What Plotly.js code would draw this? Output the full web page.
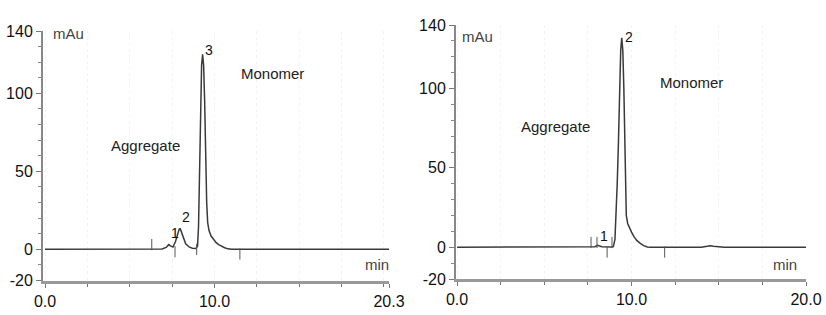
<!DOCTYPE html>
<html>
<head>
<meta charset="utf-8">
<script src="https://cdn.plot.ly/plotly-3.0.1.min.js"></script>
<style>html,body{margin:0;padding:0;background:#fff;}#chart{width:826px;height:315px;}</style>
</head>
<body>
<div id="chart"></div>
<script>
// ---- Left chromatogram (0 - 20.3 min) ----
var leftTime = [0, 6.0, 6.9, 7.15, 7.3, 7.4, 7.55, 7.7, 7.82, 7.92, 7.98, 8.05, 8.15, 8.3, 8.5, 8.7, 8.9,
  9.0, 9.06, 9.12, 9.18, 9.24, 9.3, 9.36, 9.42, 9.48, 9.54, 9.6, 9.68, 9.8, 9.95, 10.1, 10.25, 10.4, 10.6, 10.8, 11.0, 20.3];
var leftAbs = [0, 0, 0.2, 1.2, 3, 2.2, 1.5, 5, 10, 13, 13.2, 11, 7, 3.5, 1.5, 0.7, 0.5,
  2, 15, 55, 95, 118, 125, 118, 95, 60, 30, 17, 12, 8.5, 6, 4.3, 3, 2, 1, 0.3, 0, 0];
var leftPeakLabels = ['1', '2', '3'];
var leftPeakTimes = [7.3, 7.96, 9.3];
var leftPeakHeights = [3, 13.2, 125];
var leftEventTimes = [6.3, 7.67, 8.95, 11.5];
var leftEventLevels = [3, -1.5, 0, -3];

// ---- Right chromatogram (0 - 20.0 min) ----
var rightTime = [0, 7.5, 7.9, 8.05, 8.15, 8.3, 8.9, 8.96, 9.05, 9.12, 9.18, 9.25, 9.32, 9.38, 9.44, 9.5, 9.56, 9.62, 9.66,
  9.7, 9.78, 9.9, 10.0, 10.15, 10.3, 10.5, 10.7, 10.9, 11.1, 14.0, 14.3, 14.5, 14.7, 15.0, 15.3, 20];
var rightAbs = [0, 0, 0.3, 1.2, 1.0, 0.3, 0.2, 0.5, 5, 20, 40, 66, 100, 124, 132, 124, 100, 62, 35,
  20, 15, 11.5, 9.5, 6.5, 4.3, 2.5, 1, 0.2, 0, 0, 0.6, 0.9, 0.6, 0.1, 0, 0];
var rightPeakLabels = ['1', '2'];
var rightPeakTimes = [8.1, 9.44];
var rightPeakHeights = [1.2, 132];
var rightEventTimes = [7.68, 8.02, 8.6, 8.88, 11.9];
var rightEventLevels = [3, 3, -3, 3, -3];

// ---- Axis ticks ----
var yTickVals = [-20, 0, 50, 100, 140];
var yTickText = ['-20', '0', '50', '100', '140'];
var leftXTickVals = [0, 10, 20.3];
var leftXTickText = ['0.0', '10.0', '20.3'];
var rightXTickVals = [0, 10, 20];
var rightXTickText = ['0.0', '10.0', '20.0'];

var FONT = 'Liberation Sans, Arial, sans-serif';
var lineCol = '#3a3a3a';

var traces = [
  {x: leftTime, y: leftAbs, xaxis: 'x', yaxis: 'y', mode: 'lines', line: {color: lineCol, width: 1.5}, hoverinfo: 'skip'},
  {x: rightTime, y: rightAbs, xaxis: 'x2', yaxis: 'y2', mode: 'lines', line: {color: lineCol, width: 1.5}, hoverinfo: 'skip'},
  {x: leftEventTimes, y: leftEventLevels, xaxis: 'x', yaxis: 'y', mode: 'markers',
   marker: {symbol: 'line-ns', size: 8, line: {color: '#555', width: 1}}, hoverinfo: 'skip'},
  {x: rightEventTimes, y: rightEventLevels, xaxis: 'x2', yaxis: 'y2', mode: 'markers',
   marker: {symbol: 'line-ns', size: 8, line: {color: '#555', width: 1}}, hoverinfo: 'skip'}
];

function xAxis(domain, range, vals, text, anchor) {
  return {
    domain: domain, range: range, anchor: anchor,
    tickmode: 'array', tickvals: vals, ticktext: text,
    ticks: 'outside', ticklen: 4, tickcolor: '#777', tickwidth: 1,
    showline: true, linecolor: '#999', linewidth: 3,
    showgrid: false, zeroline: false,
    tickfont: {family: FONT, size: 16, color: '#111'},
    minor: {tickmode: 'linear', tick0: 0, dtick: 2.5, ticks: 'outside', ticklen: 3, tickcolor: '#777',
            showgrid: true, gridcolor: '#f3f3f3', griddash: 'dot'}
  };
}
function yAxis(domain, anchor) {
  return {
    domain: domain, range: [-20, 140], anchor: anchor,
    tickmode: 'array', tickvals: yTickVals, ticktext: yTickText,
    ticks: 'outside', ticklen: 5, tickcolor: '#777', tickwidth: 1,
    showline: true, linecolor: '#888', linewidth: 2,
    showgrid: false, zeroline: false,
    tickfont: {family: FONT, size: 16, color: '#111'},
    minor: {tickmode: 'linear', tick0: -20, dtick: 10, ticks: 'outside', ticklen: 3, tickcolor: '#888'}
  };
}

var annotations = [];
function txt(xref, yref, x, y, text, size, color) {
  annotations.push({xref: xref, yref: yref, x: x, y: y, text: text, showarrow: false,
    xanchor: 'center', yanchor: 'middle', font: {family: FONT, size: size, color: color}});
}
txt('x', 'y', 5.9, 66.5, 'Aggregate', 15, '#222');
txt('x', 'y', 13.45, 113, 'Monomer', 15, '#222');
txt('x', 'y', 1.36, 138.7, 'mAu', 15, '#444');
txt('x', 'y', 19.6, -10, 'min', 15, '#444');
txt('x2', 'y2', 5.67, 75.8, 'Aggregate', 15, '#222');
txt('x2', 'y2', 13.41, 103.5, 'Monomer', 15, '#222');
txt('x2', 'y2', 1.15, 133, 'mAu', 15, '#444');
txt('x2', 'y2', 18.8, -11, 'min', 15, '#444');

var leftShift = [[6, 12], [6, 12], [6, 4]];
leftPeakLabels.forEach(function (t, i) {
  annotations.push({xref: 'x', yref: 'y', x: leftPeakTimes[i], y: leftPeakHeights[i], text: t, showarrow: false,
    xanchor: 'center', yanchor: 'middle', xshift: leftShift[i][0], yshift: leftShift[i][1],
    font: {family: FONT, size: 14, color: '#111'}});
});
var rightShift = [[6, 9], [7, 1]];
rightPeakLabels.forEach(function (t, i) {
  annotations.push({xref: 'x2', yref: 'y2', x: rightPeakTimes[i], y: rightPeakHeights[i], text: t, showarrow: false,
    xanchor: 'center', yanchor: 'middle', xshift: rightShift[i][0], yshift: rightShift[i][1],
    font: {family: FONT, size: 14, color: '#111'}});
});

var layout = {
  width: 826, height: 315,
  margin: {l: 0, r: 0, t: 0, b: 0},
  paper_bgcolor: '#fff', plot_bgcolor: '#fff',
  showlegend: false,
  xaxis: xAxis([43 / 826, 389 / 826], [-0.12, 20.3], leftXTickVals, leftXTickText, 'y'),
  yaxis: yAxis([(315 - 280.5) / 315, (315 - 31) / 315], 'x'),
  xaxis2: xAxis([456 / 826, 806 / 826], [-0.06, 20], rightXTickVals, rightXTickText, 'y2'),
  yaxis2: yAxis([(315 - 279) / 315, (315 - 25) / 315], 'x2'),
  annotations: annotations
};

Plotly.newPlot('chart', traces, layout, {staticPlot: true, displayModeBar: false});
</script>
</body>
</html>
